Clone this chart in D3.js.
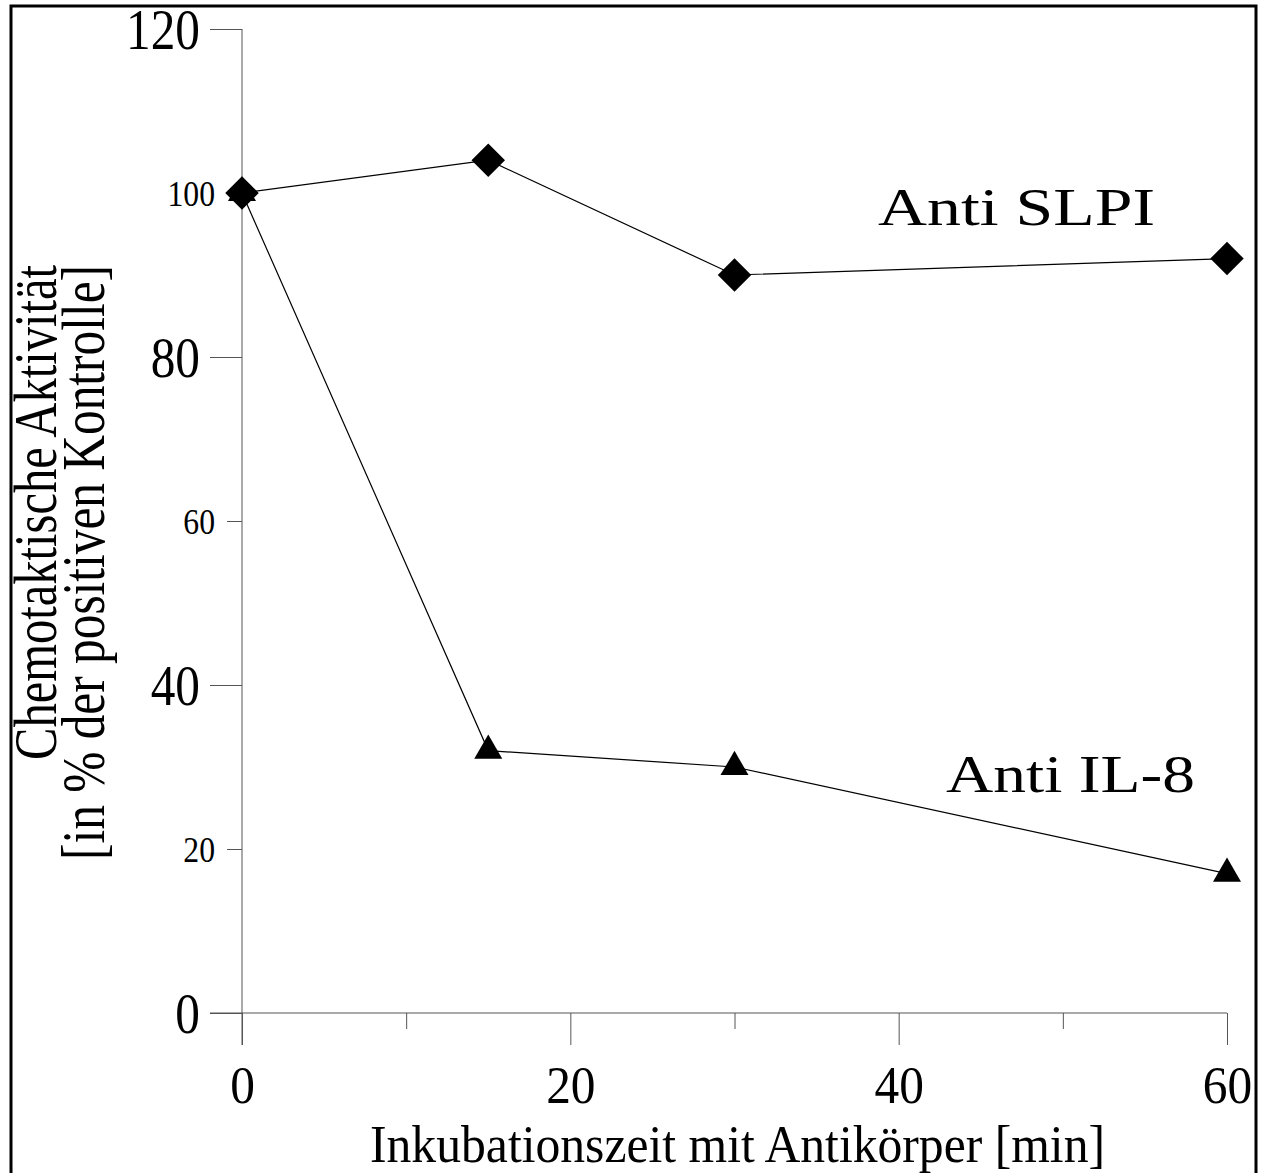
<!DOCTYPE html>
<html>
<head>
<meta charset="utf-8">
<script src="https://cdn.jsdelivr.net/npm/d3@7"></script>
<style>
  body { margin: 0; background: #fff; }
  svg { display: block; }
</style>
</head>
<body>
<script>
// Chemotaktische Aktivität nach Inkubation mit Antikörpern

var width = 1266;
var height = 1173;

var times = [0, 15, 30, 60];                 // Inkubationszeit [min]
var antiSLPI = [100, 104, 90, 92];
var antiIL8 = [100, 32, 30, 17];
var seriesNames = ["Anti SLPI", "Anti IL-8"];

var yTicks = [0, 20, 40, 60, 80, 100, 120];
var xTicks = [0, 10, 20, 30, 40, 50, 60];
var xLabelled = [0, 20, 40, 60];

var serif = "'Liberation Serif', 'Times New Roman', serif";
var axisColor = "#555";

var xScale = d3.scaleLinear().domain([0, 60]).range([242, 1227]);
var yScale = d3.scaleLinear().domain([0, 120]).range([1013, 29]);

var svg = d3.select("body")
            .append("svg")
            .attr("width", width)
            .attr("height", height);

svg.append("rect")
   .attr("width", width)
   .attr("height", height)
   .attr("fill", "white");

// squeeze text horizontally by a factor
function squeeze(sel, f) {
  sel.each(function() {
    var w = this.getComputedTextLength();
    d3.select(this).attr("textLength", w * f).attr("lengthAdjust", "spacingAndGlyphs");
  });
}

// y axis
var yAxis = svg.append("g")
   .attr("transform", "translate(" + xScale(0) + ",0)")
   .call(d3.axisLeft(yScale).tickValues(yTicks).tickSizeOuter(0))
   .attr("font-family", serif);
yAxis.select(".domain").remove();
yAxis.selectAll(".tick line")
   .attr("stroke", axisColor)
   .attr("x2", function(d, i) { return i % 2 === 0 ? -32 : -15; });
yAxis.selectAll(".tick text")
   .attr("fill", "black")
   .attr("x", function(d, i) { return i % 2 === 0 ? -42 : -27; })
   .attr("dy", "0.34em")
   .attr("font-size", function(d, i) { return i % 2 === 0 ? 56 : 36; })
   .call(squeeze, 0.88);

svg.append("line")
   .attr("x1", xScale(0)).attr("x2", xScale(0))
   .attr("y1", yScale(120)).attr("y2", yScale(0) + 32)
   .attr("stroke", axisColor);

// x axis
var xAxis = svg.append("g")
   .attr("transform", "translate(0," + yScale(0) + ")")
   .call(d3.axisBottom(xScale).tickValues(xTicks).tickSizeOuter(0)
           .tickFormat(function(d) { return xLabelled.indexOf(d) >= 0 ? d : ""; }))
   .attr("font-family", serif);
xAxis.select(".domain").remove();
xAxis.selectAll(".tick line")
   .attr("stroke", axisColor)
   .attr("y2", function(d) { return d % 20 === 0 ? 32 : 16; });
xAxis.selectAll(".tick text")
   .attr("fill", "black")
   .attr("y", 90)
   .attr("dy", 0)
   .attr("font-size", 52)
   .call(squeeze, 0.95);

svg.append("line")
   .attr("x1", xScale(0) - 32).attr("x2", xScale(60))
   .attr("y1", yScale(0)).attr("y2", yScale(0))
   .attr("stroke", axisColor);

// lines
var line = d3.line()
   .x(function(d) { return xScale(d[0]); })
   .y(function(d) { return yScale(d[1]); });

var il8Data = times.map(function(t, i) { return [t, antiIL8[i]]; });
var slpiData = times.map(function(t, i) { return [t, antiSLPI[i]]; });

svg.append("path").datum(il8Data).attr("d", line)
   .attr("fill", "none").attr("stroke", "black").attr("stroke-width", 1.2);
svg.append("path").datum(slpiData).attr("d", line)
   .attr("fill", "none").attr("stroke", "black").attr("stroke-width", 1.2);

// markers: triangles first, diamonds on top
svg.selectAll(".tri")
   .data(il8Data)
   .enter()
   .append("path")
   .attr("class", "tri")
   .attr("d", d3.symbol().type(d3.symbolTriangle).size(340))
   .attr("transform", function(d) { return "translate(" + xScale(d[0]) + "," + yScale(d[1]) + ")"; })
   .attr("fill", "black");

svg.selectAll(".dia")
   .data(slpiData)
   .enter()
   .append("path")
   .attr("class", "dia")
   .attr("d", d3.symbol().type(d3.symbolSquare).size(560))
   .attr("transform", function(d) { return "translate(" + xScale(d[0]) + "," + yScale(d[1]) + ") rotate(45)"; })
   .attr("fill", "black");

// series labels
svg.append("text")
   .attr("x", 878).attr("y", 225)
   .attr("font-family", serif).attr("font-size", 53)
   .attr("textLength", 277).attr("lengthAdjust", "spacingAndGlyphs")
   .text(seriesNames[0]);

svg.append("text")
   .attr("x", 946).attr("y", 792)
   .attr("font-family", serif).attr("font-size", 53)
   .attr("textLength", 249).attr("lengthAdjust", "spacingAndGlyphs")
   .text(seriesNames[1]);

// axis titles
svg.append("text")
   .attr("x", 370).attr("y", 1162)
   .attr("font-family", serif).attr("font-size", 52)
   .attr("textLength", 735).attr("lengthAdjust", "spacingAndGlyphs")
   .text("Inkubationszeit mit Antikörper [min]");

var yTitle = svg.append("g")
   .attr("transform", "translate(0,265) rotate(-90)")
   .attr("font-family", serif)
   .attr("font-size", 62)
   .attr("text-anchor", "end");
yTitle.append("text")
   .attr("x", 0).attr("y", 56)
   .attr("textLength", 495).attr("lengthAdjust", "spacingAndGlyphs")
   .text("Chemotaktische Aktivität");
yTitle.append("text")
   .attr("x", 0).attr("y", 104)
   .attr("textLength", 595).attr("lengthAdjust", "spacingAndGlyphs")
   .text("[in % der positiven Kontrolle]");

// frame
svg.append("rect")
   .attr("x", 11).attr("y", 6)
   .attr("width", 1245).attr("height", 1200)
   .attr("fill", "none")
   .attr("stroke", "black")
   .attr("stroke-width", 3);
</script>
</body>
</html>
